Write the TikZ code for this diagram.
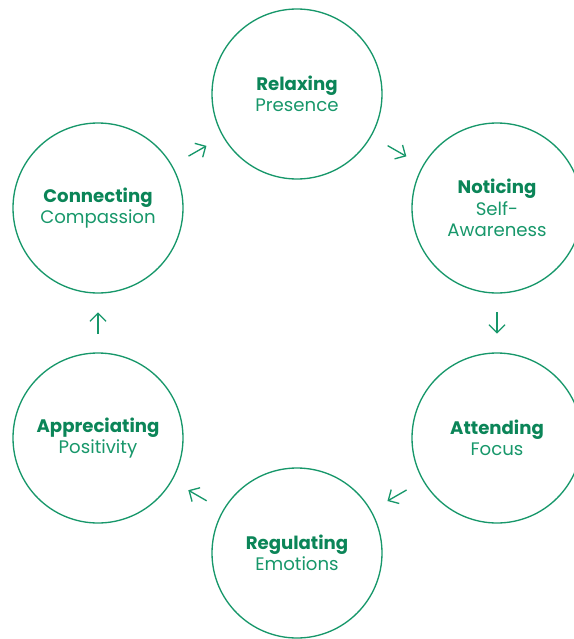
\documentclass[tikz,border=0pt]{standalone}
\usepackage{fontspec}
\setmainfont{Poppins}
\usetikzlibrary{arrows.meta}

\definecolor{leaf}{HTML}{17976A}
\definecolor{leafdark}{HTML}{0B8558}
\newcommand{\stagename}[1]{{\bfseries\color{leafdark}#1}}

\tikzset{
  stage/.style={circle, draw=leaf, line width=1pt, minimum size=127.5pt,
    inner sep=0pt, align=center, text=leaf,
    font=\fontsize{13.6}{16.2}\selectfont},
  flow/.style={draw=leaf, line width=1pt,
    -{Straight Barb[length=6pt,width=12pt]},
    shorten <=14pt, shorten >=14pt},
}

\begin{document}
\begin{tikzpicture}[x=0.75pt,y=-0.75pt]
  \useasboundingbox (0,0) rectangle (574,639);
  % the six stages
  \node[stage] (relax)   at (297,94)  {\stagename{Relaxing}\\Presence};
  \node[stage] (notice)  at (497,208) {\stagename{Noticing}\\Self-\\Awareness};
  \node[stage] (attend)  at (497,438) {\stagename{Attending}\\Focus};
  \node[stage] (regul)   at (297,553) {\stagename{Regulating}\\Emotions};
  \node[stage] (appre)   at (98,438)  {\stagename{Appreciating}\\Positivity};
  \node[stage] (connect) at (98,208)  {\stagename{Connecting}\\Compassion};
  % the cycle
  \draw[flow] (relax) -- (notice);
  \draw[flow] (notice) -- (attend);
  \draw[flow] (attend) -- (regul);
  \draw[flow] (regul) -- (appre);
  \draw[flow] (appre) -- (connect);
  \draw[flow] (connect) -- (relax);
\end{tikzpicture}
\end{document}
